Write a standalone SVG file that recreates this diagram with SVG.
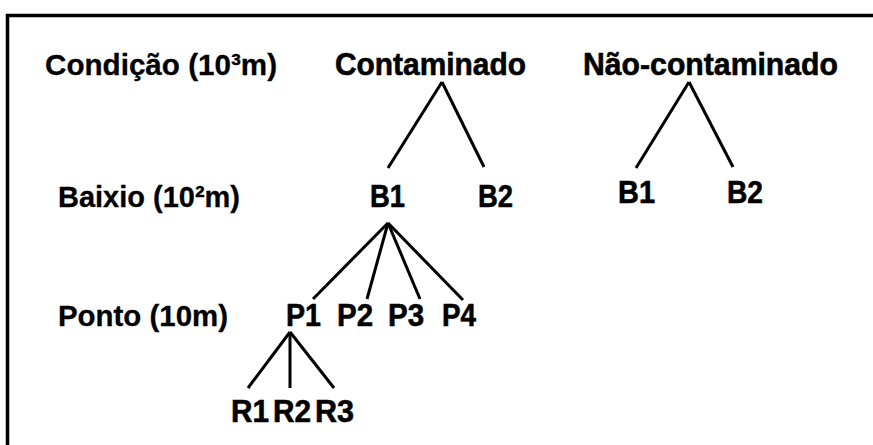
<svg xmlns="http://www.w3.org/2000/svg" width="873" height="445" viewBox="0 0 873 445">
<style>
text{font-family:"Liberation Sans",Arial,sans-serif;font-weight:bold;font-size:31px;fill:#000;stroke:#000;stroke-width:0.6}
.lbl{font-size:30px;stroke-width:0.3}
#connectors line{stroke:#000;stroke-width:3;stroke-linecap:butt}
</style>
<rect width="873" height="445" fill="#fff"/>
<path d="M7.5 445 V15.5 H873" fill="none" stroke="#000" stroke-width="3.5"/>
<g id="labels">
<text class="lbl" x="45" y="75" textLength="232" lengthAdjust="spacingAndGlyphs">Condição (10³m)</text>
<text class="lbl" x="58" y="207" textLength="182" lengthAdjust="spacingAndGlyphs">Baixio (10²m)</text>
<text class="lbl" x="58" y="326" textLength="170" lengthAdjust="spacingAndGlyphs">Ponto (10m)</text>
</g>
<g id="connectors">
<line x1="442" y1="82" x2="388" y2="168"/>
<line x1="442" y1="82" x2="484" y2="167"/>
<line x1="689" y1="82" x2="636" y2="168"/>
<line x1="689" y1="82" x2="733" y2="167"/>
<line x1="388" y1="223" x2="313" y2="299"/>
<line x1="388" y1="223" x2="367" y2="299"/>
<line x1="388" y1="223" x2="420" y2="299"/>
<line x1="388" y1="223" x2="463" y2="300"/>
<line x1="290" y1="332" x2="248" y2="388"/>
<line x1="290" y1="332" x2="290" y2="388"/>
<line x1="290" y1="332" x2="334" y2="388"/>
</g>
<g id="contaminado"><text x="335" y="75" textLength="191" lengthAdjust="spacingAndGlyphs">Contaminado</text></g>
<g id="nao-contaminado"><text x="583" y="75" textLength="255" lengthAdjust="spacingAndGlyphs">Não-contaminado</text></g>
<g id="c-b1"><text x="370" y="207" textLength="35" lengthAdjust="spacingAndGlyphs">B1</text></g>
<g id="c-b2"><text x="478" y="207" textLength="35" lengthAdjust="spacingAndGlyphs">B2</text></g>
<g id="n-b1"><text x="618" y="203" textLength="37" lengthAdjust="spacingAndGlyphs">B1</text></g>
<g id="n-b2"><text x="727" y="203" textLength="36" lengthAdjust="spacingAndGlyphs">B2</text></g>
<g id="p1"><text x="286" y="326" textLength="35" lengthAdjust="spacingAndGlyphs">P1</text></g>
<g id="p2"><text x="337" y="326" textLength="36" lengthAdjust="spacingAndGlyphs">P2</text></g>
<g id="p3"><text x="388" y="326" textLength="36" lengthAdjust="spacingAndGlyphs">P3</text></g>
<g id="p4"><text x="442" y="326" textLength="34" lengthAdjust="spacingAndGlyphs">P4</text></g>
<g id="r1"><text x="231" y="422" textLength="38" lengthAdjust="spacingAndGlyphs">R1</text></g>
<g id="r2"><text x="273" y="422" textLength="38" lengthAdjust="spacingAndGlyphs">R2</text></g>
<g id="r3"><text x="315" y="422" textLength="39" lengthAdjust="spacingAndGlyphs">R3</text></g>
</svg>
